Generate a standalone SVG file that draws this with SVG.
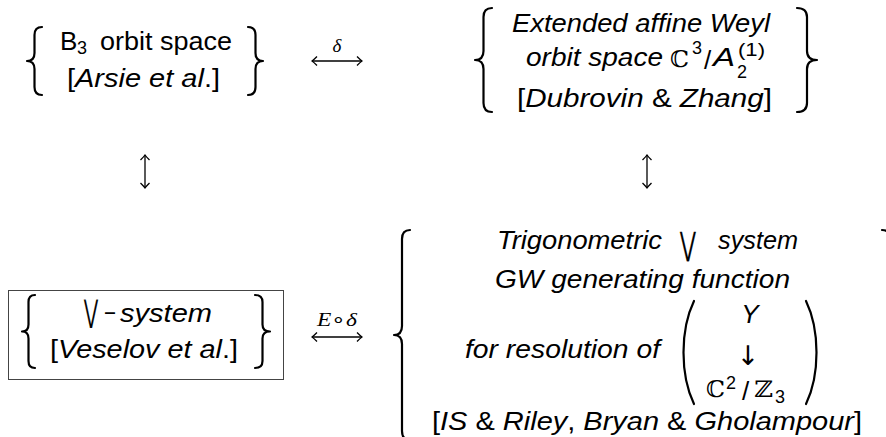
<svg xmlns="http://www.w3.org/2000/svg" width="886" height="437" viewBox="0 0 886 437">
<style>
  .t { font-family: "Liberation Sans", "DejaVu Sans", sans-serif; font-size: 26px; fill: #000; }
  .i { font-style: italic; }
  .s { font-family: "Liberation Sans", sans-serif; font-size: 18px; fill: #000; }
  .bb { font-family: "DejaVu Serif", "DejaVu Sans", serif; font-size: 23px; fill: #000; }
  .op { font-family: "DejaVu Sans", sans-serif; fill: #000; stroke: #000; stroke-width: 0.3; }
  .ar2 { font-family: "DejaVu Sans", sans-serif; fill: #000; }
  .lbl { font-family: "Liberation Serif", serif; font-style: italic; font-size: 19px; fill: #000; }
  .br { fill: none; stroke: #000; stroke-width: 2.2; stroke-linecap: round; stroke-linejoin: round; }
  .ar { fill: none; stroke: #000; stroke-width: 1.3; }
</style>
<defs>
  <marker id="hd" viewBox="-7 -5 8 10" markerWidth="8" markerHeight="10" refX="0" refY="0" orient="auto-start-reverse" markerUnits="userSpaceOnUse">
    <path d="M-5,-4.5 Q-1.5,-1 0,0 Q-1.5,1 -5,4.5" fill="none" stroke="#000" stroke-width="1.3"/>
  </marker>
</defs>
<rect width="886" height="437" fill="#fff"/>

<g id="node-b3">
  <path class="br" d="M42 27 Q34.5 27 34.5 35 L34.5 53 Q34.5 61 27 61 Q34.5 61 34.5 69 L34.5 87 Q34.5 95 42 95"/>
  <text class="t" x="60" y="50">B</text>
  <text class="s" x="77" y="54">3</text>
  <text class="t" x="100" y="50" textLength="132" lengthAdjust="spacingAndGlyphs">orbit space</text>
  <text class="t" x="67" y="87" textLength="153" lengthAdjust="spacingAndGlyphs">[<tspan class="i">Arsie et al</tspan>.]</text>
  <path class="br" d="M248 27 Q255.5 27 255.5 35 L255.5 53 Q255.5 61 263 61 Q255.5 61 255.5 69 L255.5 87 Q255.5 95 248 95"/>
</g>

<g id="node-weyl">
  <path class="br" d="M492 8 Q483.5 8 483.5 17 L483.5 51 Q483.5 60 475 60 Q483.5 60 483.5 69 L483.5 103 Q483.5 112 492 112"/>
  <text class="t i" x="512" y="32" textLength="258" lengthAdjust="spacingAndGlyphs">Extended affine Weyl</text>
  <text class="t i" x="526" y="66" textLength="137" lengthAdjust="spacingAndGlyphs">orbit space</text>
  <text class="bb" x="670" y="67" textLength="19" lengthAdjust="spacingAndGlyphs">ℂ</text>
  <text class="s" x="692" y="54" font-size="17">3</text>
  <text class="t" x="704" y="69">/</text>
  <text class="t i" x="713" y="66" textLength="22" lengthAdjust="spacingAndGlyphs">A</text>
  <text class="s" x="738" y="56" textLength="27" lengthAdjust="spacingAndGlyphs">(1)</text>
  <text class="s" x="737" y="78">2</text>
  <text class="t" x="517" y="107" textLength="255" lengthAdjust="spacingAndGlyphs">[<tspan class="i">Dubrovin</tspan> &amp; <tspan class="i">Zhang</tspan>]</text>
  <path class="br" d="M797 8 Q807 8 807 17 L807 51 Q807 60 817 60 Q807 60 807 69 L807 103 Q807 112 797 112"/>
</g>

<g id="node-vee">
  <rect x="8.5" y="290.5" width="275" height="89" fill="none" stroke="#444" stroke-width="1"/>
  <path class="br" d="M35 295 Q28.5 295 28.5 302 L28.5 324.5 Q28.5 331.5 22 331.5 Q28.5 331.5 28.5 338.5 L28.5 361 Q28.5 368 35 368"/>
  <text class="op" transform="translate(84 322) scale(0.55 1)" font-size="31">⋁</text>
  <text class="t" x="104" y="322" textLength="12" lengthAdjust="spacingAndGlyphs">−</text>
  <text class="t i" x="120" y="322" textLength="92" lengthAdjust="spacingAndGlyphs">system</text>
  <text class="t" x="50" y="358" textLength="188" lengthAdjust="spacingAndGlyphs">[<tspan class="i">Veselov et al</tspan>.]</text>
  <path class="br" d="M255 295 Q262.5 295 262.5 302 L262.5 324.5 Q262.5 331.5 270 331.5 Q262.5 331.5 262.5 338.5 L262.5 361 Q262.5 368 255 368"/>
</g>

<g id="node-gw">
  <path class="br" d="M410 230 Q402 230 402 239 L402 326 Q402 335 394 335 Q402 335 402 344 L402 431 Q402 440 410 440"/>
  <text class="t i" x="497" y="249" textLength="165" lengthAdjust="spacingAndGlyphs">Trigonometric</text>
  <text class="op" transform="translate(680 255) scale(0.6 1)" font-size="32">⋁</text>
  <text class="t i" x="718" y="249" textLength="80" lengthAdjust="spacingAndGlyphs">system</text>
  <text class="t i" x="495" y="288" textLength="295" lengthAdjust="spacingAndGlyphs">GW generating function</text>
  <text class="t i" x="465" y="358" textLength="195" lengthAdjust="spacingAndGlyphs">for resolution of</text>
  <path class="br" d="M694 301 C680 330 680 375 694 404"/>
  <text class="t i" x="750" y="323" text-anchor="middle">Y</text>
  <text class="ar2" x="748" y="365" font-size="27" text-anchor="middle">↓</text>
  <text class="bb" x="706" y="397" textLength="19" lengthAdjust="spacingAndGlyphs">ℂ</text>
  <text class="s" x="726" y="389">2</text>
  <text class="t" x="742" y="400">/</text>
  <text class="bb" x="754" y="397" textLength="19" lengthAdjust="spacingAndGlyphs">ℤ</text>
  <text class="s" x="775" y="403">3</text>
  <path class="br" d="M806 301 C820 330 820 375 806 404"/>
  <text class="t" x="432" y="430" textLength="430" lengthAdjust="spacingAndGlyphs">[<tspan class="i">IS</tspan> &amp; <tspan class="i">Riley</tspan>, <tspan class="i">Bryan</tspan> &amp; <tspan class="i">Gholampour</tspan>]</text>
  <path class="br" d="M882 230 Q890 230 890 239 L890 326 Q890 335 898 335 Q890 335 890 344 L890 431 Q890 440 882 440"/>
</g>

<g id="connectors">
  <line class="ar" x1="312" y1="61" x2="362" y2="61" marker-start="url(#hd)" marker-end="url(#hd)"/>
  <text class="lbl" x="337" y="52" text-anchor="middle">δ</text>
  <line class="ar" x1="312" y1="337" x2="362" y2="337" marker-start="url(#hd)" marker-end="url(#hd)"/>
  <text class="lbl" x="317" y="326" textLength="40" lengthAdjust="spacingAndGlyphs">E<tspan font-style="normal">∘</tspan>δ</text>
  <line class="ar" x1="145" y1="155" x2="145" y2="188" marker-start="url(#hd)" marker-end="url(#hd)"/>
  <line class="ar" x1="647" y1="155" x2="647" y2="188" marker-start="url(#hd)" marker-end="url(#hd)"/>
</g>
</svg>
